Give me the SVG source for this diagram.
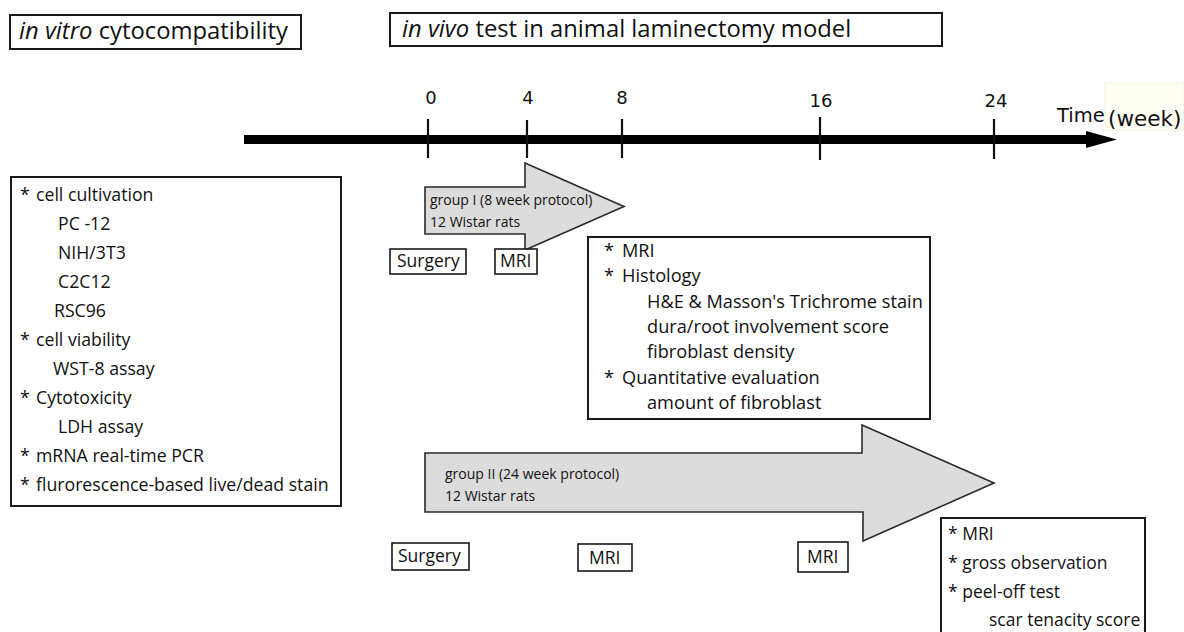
<svg xmlns="http://www.w3.org/2000/svg" width="1184" height="632" viewBox="0 0 1184 632">
<style>
.t{font-family:"Open Sans","Noto Sans","Liberation Sans",sans-serif;fill:#111;}
.d{font-family:"DejaVu Sans","Liberation Sans",sans-serif;fill:#111;}
.box{fill:#fff;stroke:#1a1a1a;stroke-width:2;}
.sbox{fill:#fff;stroke:#1a1a1a;stroke-width:1.6;}
.garrow{fill:#dcdcdc;stroke:#2a2a2a;stroke-width:1.6;stroke-linejoin:miter;}
.tick{stroke:#111;stroke-width:2.2;}
.s17{font-size:17.7px;}
.s18{font-size:18.2px;}
.s14{font-size:14px;}
.lbl{font-size:17.5px;}
.num{font-size:18px;}
.title{font-size:23.8px;}
</style>
<rect width="1184" height="632" fill="#fff"/>

<g id="title-invitro">
<rect class="box" x="10" y="15" width="291" height="34"/>
<text class="t title" x="19" y="39"><tspan font-style="italic">in vitro</tspan> cytocompatibility</text>
</g>

<g id="title-invivo">
<rect class="box" x="390" y="13" width="552" height="33"/>
<text class="t title" x="402" y="37"><tspan font-style="italic">in vivo</tspan> test in animal laminectomy model</text>
</g>

<g id="connectors">
<line x1="244" y1="139.5" x2="1092" y2="139.5" stroke="#000" stroke-width="9"/>
<polygon points="1086,131 1117,139.5 1086,148" fill="#000"/>
<line class="tick" x1="428" y1="119" x2="428" y2="158"/>
<line class="tick" x1="527" y1="120" x2="527" y2="158"/>
<line class="tick" x1="622" y1="119" x2="622" y2="158"/>
<line class="tick" x1="820" y1="117" x2="820" y2="160"/>
<line class="tick" x1="994" y1="119" x2="994" y2="159"/>
</g>

<g id="axis-labels">
<text class="d num" x="431" y="104" text-anchor="middle">0</text>
<text class="d num" x="528" y="104" text-anchor="middle">4</text>
<text class="d num" x="622" y="104" text-anchor="middle">8</text>
<text class="d num" x="821" y="107" text-anchor="middle">16</text>
<text class="d num" x="996" y="107" text-anchor="middle">24</text>
<rect x="1105" y="83" width="79" height="47" fill="#fffff6" stroke="#f3f3e2" stroke-width="1"/>
<text class="d" font-size="19.5" x="1057" y="122">Time</text>
<text class="d" font-size="21.5" x="1108" y="126">(week)</text>
</g>

<g id="invitro-list">
<rect class="box" x="11" y="177" width="330" height="329"/>
<g class="t s17">
<text x="20" y="201">*</text><text x="36" y="201">cell cultivation</text>
<text x="58" y="230">PC -12</text>
<text x="58" y="259">NIH/3T3</text>
<text x="58" y="288">C2C12</text>
<text x="54" y="317">RSC96</text>
<text x="20" y="346">*</text><text x="36" y="346">cell viability</text>
<text x="53" y="375">WST-8 assay</text>
<text x="20" y="404">*</text><text x="36" y="404">Cytotoxicity</text>
<text x="58" y="433">LDH assay</text>
<text x="20" y="462">*</text><text x="36" y="462">mRNA real-time PCR</text>
<text x="20" y="491">*</text><text x="36" y="491">flurorescence-based live/dead stain</text>
</g>
</g>

<g id="group1-arrow">
<polygon class="garrow" points="425,187 525,187 525,163 624,206.5 525,250 525,234 425,234"/>
<text class="t s14" x="430" y="205">group I (8 week protocol)</text>
<text class="t s14" x="430" y="227">12 Wistar rats</text>
</g>

<g id="g1-surgery">
<rect class="sbox" x="390" y="249" width="76" height="25"/>
<text class="t lbl" x="397" y="267">Surgery</text>
</g>
<g id="g1-mri">
<rect class="sbox" x="495" y="249" width="42" height="25"/>
<text class="t lbl" x="500" y="267">MRI</text>
</g>

<g id="group1-results">
<rect class="box" x="588" y="237" width="342" height="182"/>
<g class="t s18">
<text x="604" y="257">*</text><text x="622" y="257">MRI</text>
<text x="604" y="282">*</text><text x="622" y="282">Histology</text>
<text x="647" y="308">H&amp;E &amp; Masson's Trichrome stain</text>
<text x="647" y="333">dura/root involvement score</text>
<text x="647" y="358">fibroblast density</text>
<text x="604" y="384">*</text><text x="622" y="384">Quantitative evaluation</text>
<text x="647" y="409">amount of fibroblast</text>
</g>
</g>

<g id="group2-arrow">
<polygon class="garrow" points="425,453 862,453 862,425 994,483 863,541 863,512 425,512"/>
<text class="t s14" x="445" y="479">group II (24 week protocol)</text>
<text class="t s14" x="445" y="501">12 Wistar rats</text>
</g>

<g id="g2-surgery">
<rect class="sbox" x="392" y="543" width="77" height="27"/>
<text class="t lbl" x="398" y="562">Surgery</text>
</g>
<g id="g2-mri1">
<rect class="sbox" x="578" y="544" width="54" height="27"/>
<text class="t lbl" x="589" y="564">MRI</text>
</g>
<g id="g2-mri2">
<rect class="sbox" x="798" y="542" width="50" height="30"/>
<text class="t lbl" x="807" y="563">MRI</text>
</g>

<g id="group2-results">
<rect class="box" x="941" y="518" width="204" height="130"/>
<g class="t lbl">
<text x="948" y="540">* MRI</text>
<text x="948" y="569">* gross observation</text>
<text x="948" y="598">* peel-off test</text>
<text x="989" y="626">scar tenacity score</text>
</g>
</g>
</svg>
